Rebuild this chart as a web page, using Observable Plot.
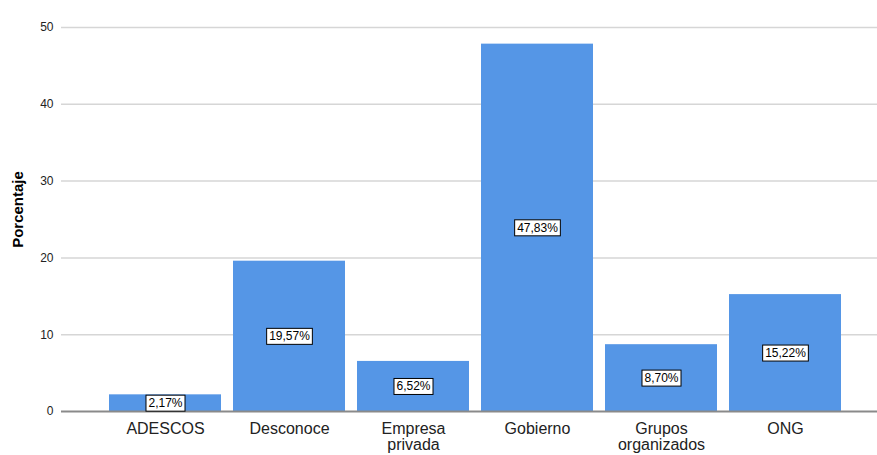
<!DOCTYPE html>
<html>
<head>
<meta charset="utf-8">
<script src="https://cdn.jsdelivr.net/npm/d3@7"></script>
<script src="https://cdn.jsdelivr.net/npm/@observablehq/plot@0.6"></script>
<style>
  html, body { margin: 0; padding: 0; background: #fff; }
  #chart { width: 877px; height: 455px; }
</style>
</head>
<body>
<div id="chart"></div>
<script>
const categories = ["ADESCOS", "Desconoce", "Empresa\nprivada", "Gobierno", "Grupos\norganizados", "ONG"];
const values = [2.17, 19.57, 6.52, 47.83, 8.70, 15.22];
const labels = ["2,17%", "19,57%", "6,52%", "47,83%", "8,70%", "15,22%"];
const yTicks = [0, 10, 20, 30, 40, 50];

const data = categories.map((c, i) => ({cat: c, value: values[i], label: labels[i]}));

const font = "Arial, 'Liberation Sans', sans-serif";
const canvas = document.createElement("canvas");
const ctx2d = canvas.getContext("2d");
ctx2d.font = "12px " + font;

function boxedText(index, scales, vals, dims, context, next) {
  const g = next(index, scales, vals, dims, context);
  const ns = "http://www.w3.org/2000/svg";
  const bg = document.createElementNS(ns, "g");
  const t = g.getAttribute("transform");
  if (t) bg.setAttribute("transform", t);
  for (const i of index) {
    const w = ctx2d.measureText(data[i].label).width;
    const x = vals.x[i], y = vals.y[i];
    const r = document.createElementNS(ns, "rect");
    r.setAttribute("x", x - w / 2 - 2.5);
    r.setAttribute("y", y - 8);
    r.setAttribute("width", w + 5);
    r.setAttribute("height", 16);
    r.setAttribute("fill", "#fff");
    r.setAttribute("stroke", "#000");
    r.setAttribute("stroke-width", 1);
    bg.appendChild(r);
  }
  const wrap = document.createElementNS(ns, "g");
  wrap.appendChild(bg);
  wrap.appendChild(g);
  return wrap;
}

const chart = Plot.plot({
  width: 877,
  height: 455,
  marginLeft: 61,
  marginRight: 0,
  marginTop: 7,
  marginBottom: 44,
  style: {fontFamily: font, background: "#fff"},
  x: {domain: categories, range: [108, 841], paddingInner: 0.098, paddingOuter: 0, label: null},
  y: {domain: [0, 52.6], label: null},
  marks: [
    Plot.ruleY(yTicks.filter(d => d > 0), {stroke: "#d6d6d6", strokeWidth: 1.5}),
    Plot.barY(data, {x: "cat", y: "value", fill: "#5596e6"}),
    Plot.ruleY([0], {stroke: "#8a8a8a", strokeWidth: 2}),
    Plot.ruleX([0], {x: () => 61, frameAnchor: "left", stroke: "#8a8a8a", strokeWidth: 2}),
    Plot.axisY({ticks: yTicks, tickSize: 0, tickPadding: 8, fontSize: 12, color: "#222", label: null}),
    Plot.axisX({tickSize: 0, tickPadding: 11, fontSize: 16, lineHeight: 1.0, color: "#222", label: null}),
    Plot.text(["Porcentaje"], {frameAnchor: "left", textAnchor: "middle", dx: -43, rotate: -90, fontSize: 15, fontWeight: "bold", fill: "#000"}),
    Plot.text(data, {x: "cat", y: d => d.value / 2, text: "label", fontSize: 12, fill: "#000", render: boxedText})
  ]
});
document.getElementById("chart").appendChild(chart);
</script>
</body>
</html>
